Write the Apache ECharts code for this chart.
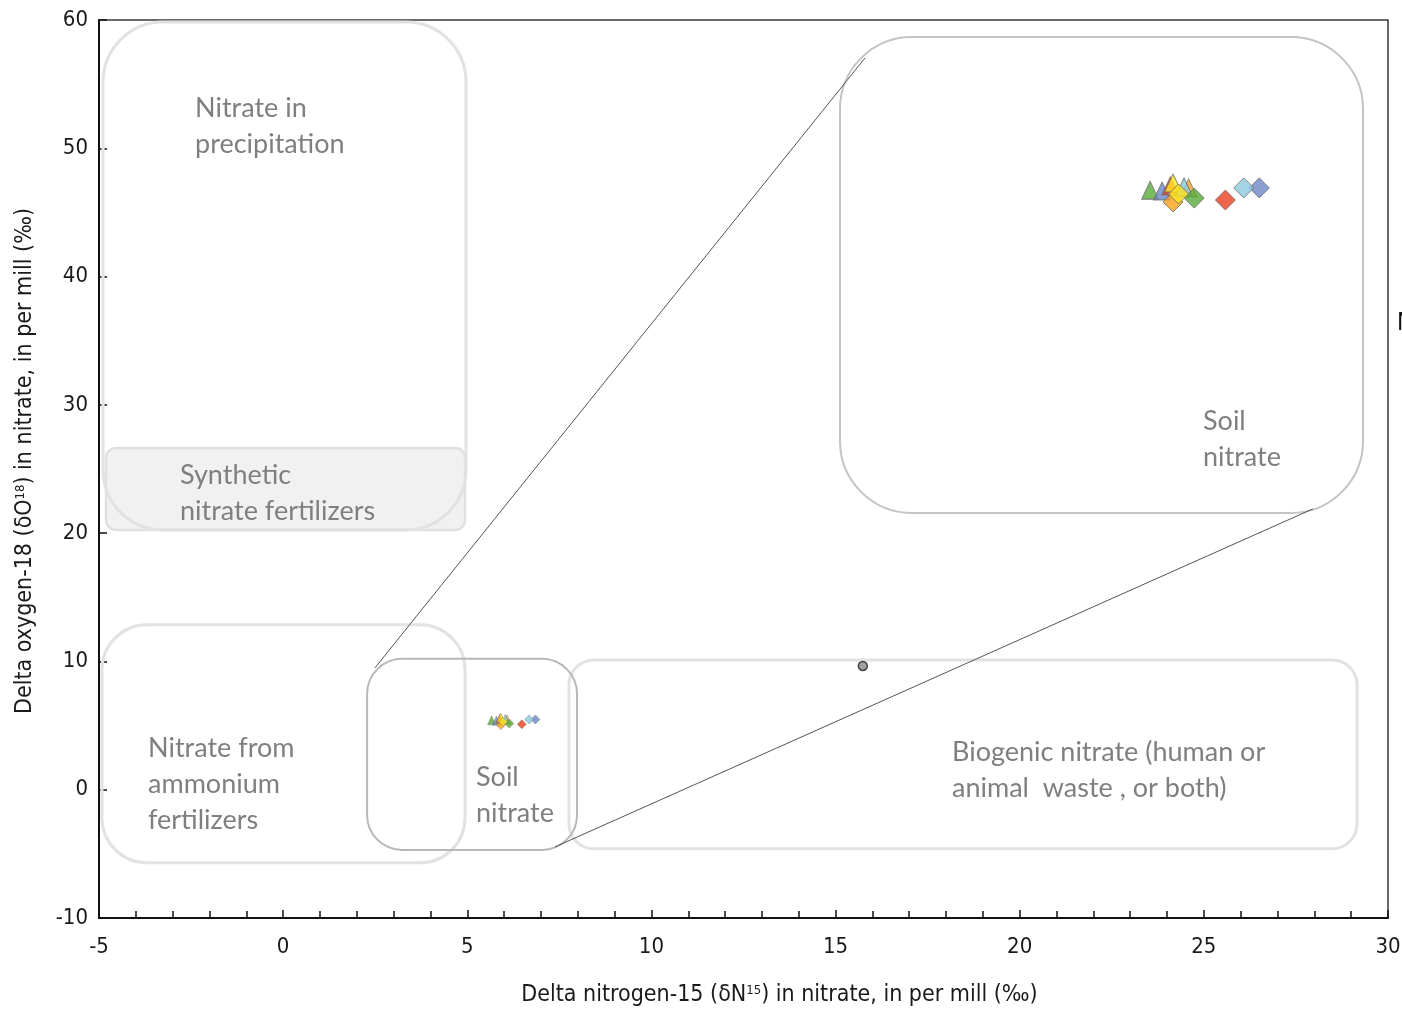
<!DOCTYPE html>
<html>
<head>
<meta charset="utf-8">
<script src="https://cdn.jsdelivr.net/npm/echarts@6/dist/echarts.min.js"></script>
<style>
html,body{margin:0;padding:0;background:#fff;}
#chart{width:1402px;height:1009px;}
</style>
</head>
<body>
<div id="chart"></div>
<script>
// ---------------- data ----------------
const siteNames = ['Site A', 'Site B', 'Site C', 'Site D', 'Site E', 'Site F'];
// triangles (sampling 1) and diamonds (sampling 2): delta N15, delta O18
const triX = [5.66, 5.79, 5.88, 6.08, 5.91, 6.03];
const triY = [5.41, 5.38, 5.54, 5.48, 5.63, 5.51];
const diaX = [6.14, 6.85, 6.48, 5.91, 5.97, 6.68];
const diaY = [5.16, 5.48, 5.10, 5.04, 5.29, 5.48];
const otherPoint = [15.74, 9.65];

// source regions [xMin, yMin, xMax, yMax] in per mill
const regionNames = ['Nitrate in precipitation', 'Synthetic nitrate fertilizers', 'Nitrate from ammonium fertilizers', 'Biogenic nitrate', 'Soil nitrate'];
const regionBoxes = [
  [-4.89, 20.25, 4.965, 59.84],
  [-4.81, 20.25, 4.94, 26.64],
  [-4.92, -5.70, 4.94, 12.85],
  [7.76, -4.61, 29.16, 10.12],
  [2.28, -4.69, 7.98, 10.20]
];
// zoom connector lines (from soil box to inset) in main-axis units
const connectors = [
  [[2.49, 9.49], [15.80, 57.04]],
  [[7.38, -4.46], [27.96, 21.89]]
];

const xTicks = { min: -5, max: 30, interval: 5 };
const yTicks = { min: -10, max: 60, interval: 10 };

// ---------------- styles ----------------
const siteColors = ['#5aab3c', '#6d86c6', '#e8401f', '#f6a31c', '#ffe31b', '#8bc9e0'];
const regionStyles = [
  { fill: 'rgba(0,0,0,0)', stroke: '#e2e2e2', lineWidth: 3, r: 60 },
  { fill: '#f1f1f1', stroke: '#e0e0e0', lineWidth: 2.5, r: 10 },
  { fill: 'rgba(0,0,0,0)', stroke: '#e2e2e2', lineWidth: 3, r: 45 },
  { fill: 'rgba(0,0,0,0)', stroke: '#e2e2e2', lineWidth: 3, r: 25 },
  { fill: 'rgba(0,0,0,0)', stroke: '#b8b8b8', lineWidth: 2, r: 35 }
];
const regionOrder = [1, 0, 2, 3, 4];

const numFont = '"DejaVu Sans Condensed", "Liberation Sans Narrow", "Roboto", sans-serif';
const lblFont = 'Lato, "Open Sans", sans-serif';

function boxRender(styleFor) {
  return function (params, api) {
    const b = [api.value(0), api.value(1), api.value(2), api.value(3)];
    const p1 = api.coord([b[0], b[3]]);
    const p2 = api.coord([b[2], b[1]]);
    const s = styleFor(api.value(4));
    return {
      type: 'rect',
      shape: { x: p1[0], y: p1[1], width: p2[0] - p1[0], height: p2[1] - p1[1], r: s.r },
      style: { fill: s.fill, stroke: s.stroke, lineWidth: s.lineWidth }
    };
  };
}

function pointSeries(name, xs, ys, symbol, size, bw, xi, yi) {
  return {
    name: name, type: 'scatter', xAxisIndex: xi, yAxisIndex: yi,
    symbol: symbol, symbolSize: size,
    data: xs.map((x, i) => ({ name: siteNames[i], value: [x, ys[i]], itemStyle: { color: siteColors[i] } })),
    itemStyle: { borderColor: '#6a6a6a', borderWidth: bw },
    z: 5, silent: true
  };
}

const chart = echarts.init(document.getElementById('chart'), null, { renderer: 'canvas' });

const labels = [
  { t: 'Nitrate in', x: 195, y: 108 },
  { t: 'precipitation', x: 195, y: 144 },
  { t: 'Synthetic', x: 180, y: 475 },
  { t: 'nitrate fertilizers', x: 180, y: 511 },
  { t: 'Nitrate from', x: 148, y: 748 },
  { t: 'ammonium', x: 148, y: 784 },
  { t: 'fertilizers', x: 148, y: 820 },
  { t: 'Soil', x: 476, y: 777 },
  { t: 'nitrate', x: 476, y: 813 },
  { t: 'Biogenic nitrate (human or', x: 952, y: 752 },
  { t: 'animal  waste , or both)', x: 952, y: 788 },
  { t: 'Soil', x: 1203, y: 421 },
  { t: 'nitrate', x: 1203, y: 457 }
];

const option = {
  animation: false,
  backgroundColor: '#ffffff',
  grid: [
    { left: 99, right: 14, top: 20, bottom: 91, containLabel: false, outerBoundsMode: 'none',
      show: true, borderColor: '#3a3a3a', borderWidth: 1.5, backgroundColor: 'transparent' },
    { left: 840, top: 37, width: 523, height: 476, containLabel: false, outerBoundsMode: 'none', show: false }
  ],
  xAxis: [
    {
      gridIndex: 0, type: 'value', min: xTicks.min, max: xTicks.max, interval: xTicks.interval,
      name: 'Delta nitrogen-15 (δN{sup|15}) in nitrate, in per mill (‰)',
      nameLocation: 'middle', nameGap: 66,
      nameTextStyle: { fontFamily: numFont, fontSize: 23, color: '#1a1a1a', padding: [0, 0, 0, 72],
        rich: { sup: { fontFamily: numFont, fontSize: 13, color: '#1a1a1a', verticalAlign: 'top', padding: [0, 0, 10, 0] } } },
      axisLine: { onZero: false, lineStyle: { color: '#111', width: 2 } },
      axisTick: { inside: true, length: 8, lineStyle: { color: '#111', width: 1.5 } },
      minorTick: { show: true, splitNumber: 5, length: 7, lineStyle: { color: '#111', width: 1.5 } },
      axisLabel: { fontFamily: numFont, fontSize: 22, color: '#1a1a1a', margin: 18 },
      splitLine: { show: false }
    },
    { gridIndex: 1, type: 'value', min: regionBoxes[4][0], max: regionBoxes[4][2], show: false, splitLine: { show: false } }
  ],
  yAxis: [
    {
      gridIndex: 0, type: 'value', min: yTicks.min, max: yTicks.max, interval: yTicks.interval,
      name: 'Delta oxygen-18 (δO{sup|18}) in nitrate, in per mill (‰)',
      nameLocation: 'middle', nameGap: 62, nameRotate: 90,
      nameTextStyle: { fontFamily: numFont, fontSize: 23, color: '#1a1a1a', padding: [0, 0, 0, 16],
        rich: { sup: { fontFamily: numFont, fontSize: 13, color: '#1a1a1a', verticalAlign: 'top', padding: [0, 0, 10, 0] } } },
      axisLine: { onZero: false, lineStyle: { color: '#111', width: 2 } },
      axisTick: { inside: true, length: 8, lineStyle: { color: '#111', width: 1.5 } },
      axisLabel: { fontFamily: numFont, fontSize: 22, color: '#1a1a1a', margin: 11 },
      splitLine: { show: false }
    },
    { gridIndex: 1, type: 'value', min: regionBoxes[4][1], max: regionBoxes[4][3], show: false, splitLine: { show: false } }
  ],
  series: [
    {
      type: 'custom', name: 'regions', xAxisIndex: 0, yAxisIndex: 0, silent: true, z: 1,
      renderItem: boxRender(i => regionStyles[i]),
      data: regionOrder.map(i => ({ name: regionNames[i], value: regionBoxes[i].concat([i]) })),
      clip: false
    },
    {
      type: 'custom', name: 'inset frame', xAxisIndex: 1, yAxisIndex: 1, silent: true, z: 1,
      renderItem: boxRender(() => ({ fill: 'rgba(255,255,255,0)', stroke: '#c4c4c4', lineWidth: 2, r: 72 })),
      data: [{ name: 'Soil nitrate (enlarged)', value: regionBoxes[4].concat([4]) }],
      clip: false
    },
    {
      type: 'lines', coordinateSystem: 'cartesian2d', xAxisIndex: 0, yAxisIndex: 0, silent: true, z: 2,
      lineStyle: { color: '#555', width: 1, opacity: 1 },
      data: connectors.map(c => ({ coords: c }))
    },
    pointSeries('Sampling 1', triX, triY, 'triangle', [8, 9], 0.5, 0, 0),
    pointSeries('Sampling 2', diaX, diaY, 'diamond', 9, 0.5, 0, 0),
    {
      name: 'Other well', type: 'scatter', xAxisIndex: 0, yAxisIndex: 0, symbol: 'circle', symbolSize: 9,
      data: [otherPoint], itemStyle: { color: '#8a8a8a', borderColor: '#222', borderWidth: 1.5 }, z: 5, silent: true
    },
    pointSeries('Sampling 1 (inset)', triX, triY, 'triangle', [17, 18], 1, 1, 1),
    pointSeries('Sampling 2 (inset)', diaX, diaY, 'diamond', 20, 1, 1, 1)
  ],
  graphic: labels.map(l => ({
    type: 'text', left: l.x, top: l.y - 13, silent: true, z: 10,
    style: { text: l.t, font: '27px ' + lblFont, fill: '#7f7f7f' }
  })).concat([
    { type: 'text', left: 1397, top: 312, silent: true, style: { text: 'N', font: '24px ' + numFont, fill: '#111' } }
  ])
};

chart.setOption(option);
</script>
</body>
</html>
